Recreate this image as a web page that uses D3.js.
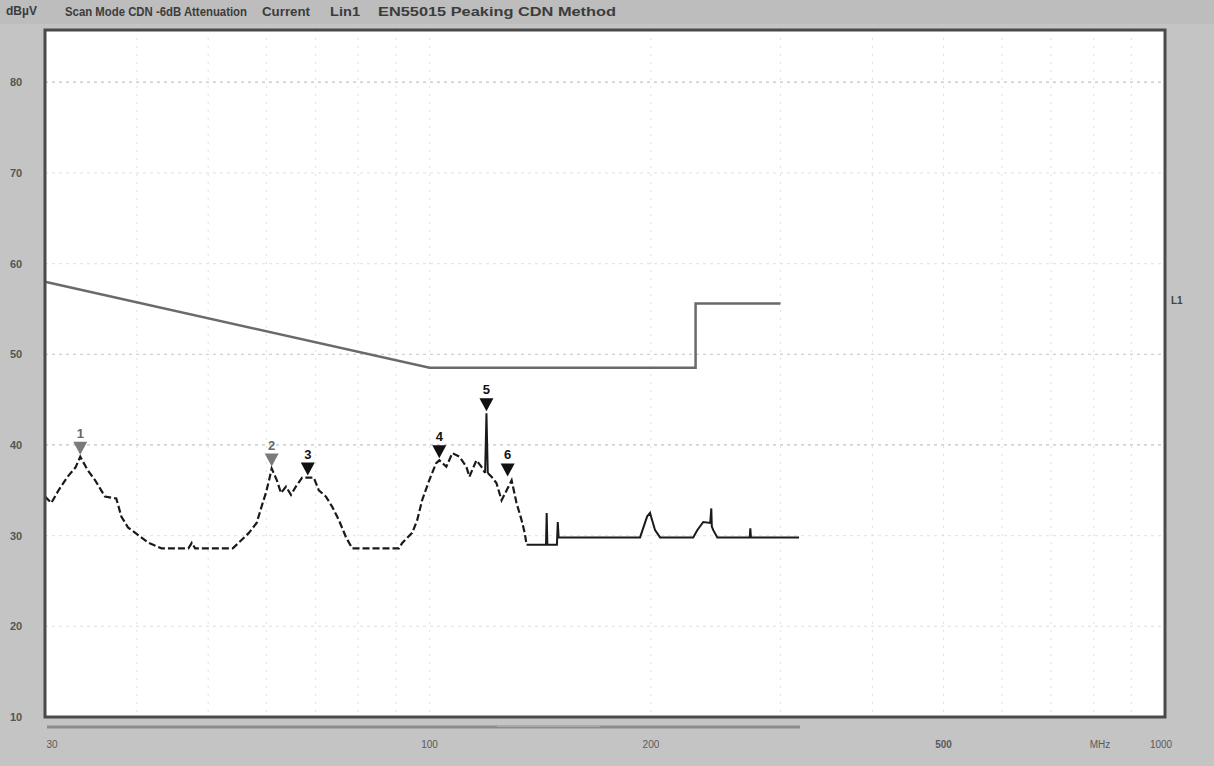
<!DOCTYPE html>
<html>
<head>
<meta charset="utf-8">
<title>EN55015 CDN scan</title>
<script src="https://d3js.org/d3.v7.min.js"></script>
<style>
  body { margin: 0; background: #c4c4c4; font-family: "Liberation Sans", Arial, sans-serif; }
  svg { display: block; }
  .hdr { font-weight: bold; font-size: 12px; fill: #3c3c3c; }
  .ylab { font-size: 11px; font-weight: bold; fill: #555; }
  .xlab { font-size: 10px; fill: #5a5a5a; }
</style>
</head>
<body>
<div id="chart"></div>
<script>
// trace: frequency in MHz, level in dB
const traceFreq = [30.0, 30.6, 31.3, 32.2, 33.0, 33.5, 34.3, 35.1, 36.2, 37.5, 38.1, 38.9, 39.8, 41.5, 43.2,
  47.0, 47.5, 48.0, 54.0, 55.0, 56.8, 58.2, 59.1, 59.9, 60.5, 61.0, 62.0, 62.8, 63.8, 64.8, 65.8, 67.1, 68.3,
  69.6, 70.7, 72.3, 73.7, 75.3, 77.0, 78.5, 90.9, 91.8, 94.7, 96.2, 97.7, 99.9, 102.1, 103.1, 105.4, 107.4,
  109.8, 112.2, 113.3, 115.8, 117.6, 119.0, 119.5, 120.0, 121.4, 123.3, 125.3, 127.3, 129.3, 131.3, 133.4,
  134.7, 135.5, 144.0, 144.3, 144.6, 149.0, 149.4, 149.8, 193.3, 197.6, 199.4, 202.6, 205.8, 228.3, 231.2,
  235.6, 240.8, 241.6, 242.0, 243.1, 246.2, 272.5, 273.0, 273.5, 318.0];
const traceLevel = [34.3, 33.6, 35.0, 36.5, 37.5, 38.7, 37.2, 36.1, 34.3, 34.1, 32.1, 30.9, 30.3, 29.2, 28.6,
  28.6, 29.2, 28.6, 28.6, 29.2, 30.3, 31.4, 33.2, 34.7, 36.1, 37.4, 36.1, 34.7, 35.4, 34.5, 35.4, 36.4, 36.4,
  36.4, 35.0, 34.3, 33.2, 31.7, 29.8, 28.6, 28.6, 29.2, 30.3, 31.7, 33.9, 36.1, 38.0, 38.3, 37.6, 39.1,
  38.7, 37.6, 36.5, 38.3, 37.6, 36.9, 43.5, 36.9, 36.5, 35.8, 33.9, 35.0, 36.1, 33.6, 31.7,
  30.3, 29.0, 29.0, 32.5, 29.0, 29.0, 31.5, 29.8, 29.8, 32.1, 32.5, 30.6, 29.8, 29.8, 30.6,
  31.5, 31.4, 33.0, 31.0, 30.6, 29.8, 29.8, 30.8, 29.8, 29.8];

// limit line
const limitFreq = [30, 100, 230, 230, 300];
const limitLevel = [58.0, 48.5, 48.5, 55.6, 55.6];

// markers
const markerLabel = ["1", "2", "3", "4", "5", "6"];
const markerFreq = [33.5, 61.0, 68.3, 103.1, 119.5, 127.7];
const markerLevel = [38.7, 37.4, 36.4, 38.3, 43.5, 36.3];
const markerGray = [true, true, false, false, false, false];

// axes
const yTicks = [10, 20, 30, 40, 50, 60, 70, 80];
const xTicks = [30, 100, 200, 500, 1000];
const xGrid = [40, 50, 60, 70, 80, 90, 100, 200, 300, 400, 500, 600, 700, 800, 900];

const headerParts = ["Scan Mode CDN -6dB Attenuation", "Current", "Lin1", "EN55015 Peaking CDN Method"];

const W = 1214, H = 766;
const plot = {left: 45, right: 1165, top: 30, bottom: 717};

const svg = d3.select('#chart').append('svg').attr('width', W).attr('height', H);

svg.append('rect').attr('width', W).attr('height', H).attr('fill', '#c4c4c4');
svg.append('rect').attr('x', 0).attr('y', 0).attr('width', W).attr('height', 24).attr('fill', '#bdbdbd');

const x = d3.scaleLog().domain([30, 1000]).range([plot.left, plot.right]);
const y = d3.scaleLinear().domain([10, 85.75]).range([plot.bottom, plot.top]);

// plot area
svg.append('rect')
  .attr('x', plot.left).attr('y', plot.top)
  .attr('width', plot.right - plot.left).attr('height', plot.bottom - plot.top)
  .attr('fill', '#ffffff');

// grid
const grid = svg.append('g');
grid.selectAll('.hg').data(yTicks.slice(1)).enter().append('line')
  .attr('x1', plot.left).attr('x2', plot.right)
  .attr('y1', d => y(d)).attr('y2', d => y(d))
  .attr('stroke', d => (d === 80 || d === 50 || d === 40) ? '#c4c4c4' : '#e6e6e6')
  .attr('stroke-width', 1.2)
  .attr('stroke-dasharray', '3,4');
grid.selectAll('.vg').data(xGrid).enter().append('line')
  .attr('x1', d => x(d)).attr('x2', d => x(d))
  .attr('y1', plot.top).attr('y2', plot.bottom)
  .attr('stroke', '#e0e0e0')
  .attr('stroke-width', 1)
  .attr('stroke-dasharray', '2,6');

// limit
const line = d3.line().x(d => x(d[0])).y(d => y(d[1]));
svg.append('path')
  .datum(limitFreq.map((f, i) => [f, limitLevel[i]]))
  .attr('d', line)
  .attr('fill', 'none')
  .attr('stroke', '#6a6a6a')
  .attr('stroke-width', 2.5);

// trace, the low part of the scan is broken up in the print, the peak at marker 5 is solid
const trace = traceFreq.map((f, i) => [f, traceLevel[i]]);
const s1 = traceFreq.indexOf(119.0);
const s2 = traceFreq.indexOf(120.0);
const s3 = traceFreq.indexOf(135.5);
const pieces = [
  [trace.slice(0, s1 + 1), true],
  [trace.slice(s1, s2 + 1), false],
  [trace.slice(s2, s3 + 1), true],
  [trace.slice(s3), false]
];
svg.append('g').selectAll('path').data(pieces).enter().append('path')
  .attr('d', d => line(d[0]))
  .attr('fill', 'none')
  .attr('stroke', '#1a1a1a')
  .attr('stroke-width', d => d[1] ? 2.2 : 2)
  .attr('stroke-dasharray', d => d[1] ? '7,3' : null);

// markers
const mk = svg.append('g').selectAll('g')
  .data(markerLabel.map((l, i) => ({l: l, f: markerFreq[i], v: markerLevel[i], g: markerGray[i]})))
  .enter().append('g')
  .attr('transform', d => 'translate(' + x(d.f) + ',' + (y(d.v) - 2) + ')');
mk.append('path')
  .attr('d', 'M0,0 L-7,-13 L7,-13 Z')
  .attr('fill', d => d.g ? '#7a7a7a' : '#111');
mk.append('text')
  .attr('y', -17)
  .attr('text-anchor', 'middle')
  .attr('font-size', 13)
  .attr('font-weight', 'bold')
  .attr('fill', d => d.g ? '#666' : '#111')
  .text(d => d.l);

// frame
svg.append('rect')
  .attr('x', plot.left).attr('y', plot.top)
  .attr('width', plot.right - plot.left).attr('height', plot.bottom - plot.top)
  .attr('fill', 'none')
  .attr('stroke', '#4a4a4a')
  .attr('stroke-width', 3);

// scroll bar under the plot
svg.append('line').attr('x1', plot.left + 2).attr('x2', 800).attr('y1', 727).attr('y2', 727)
  .attr('stroke', '#8c8c8c').attr('stroke-width', 3);
svg.append('line').attr('x1', 497).attr('x2', 600).attr('y1', 726).attr('y2', 726)
  .attr('stroke', '#a8a8a8').attr('stroke-width', 2);

// y labels
svg.selectAll('.ylab').data(yTicks).enter().append('text')
  .attr('class', 'ylab')
  .attr('x', 10)
  .attr('y', d => y(d) + 4)
  .attr('fill', d => d === 20 ? '#111' : '#555')
  .text(d => d);
svg.append('text').attr('class', 'hdr').attr('x', 6).attr('y', 15).attr('fill', '#555').text('dBµV');

// x labels
svg.selectAll('.xlab').data(xTicks).enter().append('text')
  .attr('class', 'xlab')
  .attr('x', (d, i) => x(d) + (i === 0 ? 7 : (i === xTicks.length - 1 ? -4 : 0)))
  .attr('y', 748)
  .attr('text-anchor', 'middle')
  .attr('font-weight', d => d === 500 ? 'bold' : 'normal')
  .attr('fill', d => d === 500 ? '#333' : '#666')
  .text(d => d);
svg.append('text').attr('class', 'xlab').attr('x', 1100).attr('y', 748)
  .attr('text-anchor', 'middle').text('MHz');

// header
const hx = [65, 262, 330, 378];
const hw = [182, 48, 30, 238];
svg.selectAll('.hdrt').data(headerParts).enter().append('text')
  .attr('class', 'hdr')
  .attr('x', (d, i) => hx[i])
  .attr('y', 16)
  .attr('textLength', (d, i) => hw[i])
  .attr('lengthAdjust', 'spacingAndGlyphs')
  .text(d => d);

// limit label at right edge
svg.append('text').attr('x', 1171).attr('y', 304).attr('font-size', 10)
  .attr('font-weight', 'bold').attr('fill', '#444').text('L1');
</script>
</body>
</html>
